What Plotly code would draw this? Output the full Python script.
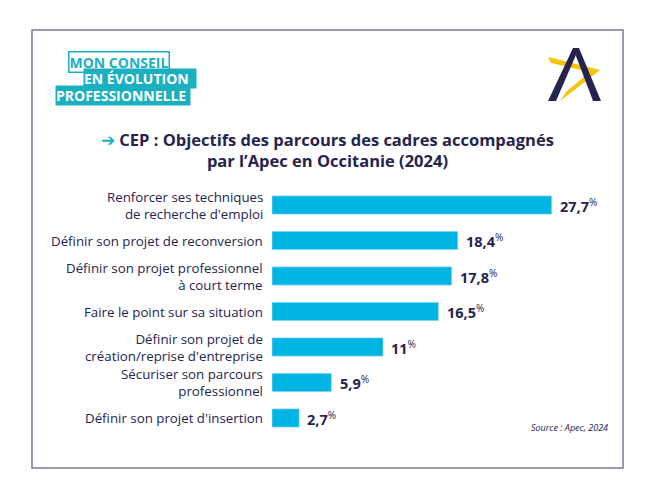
import plotly.graph_objects as go

categories = ["Renforcer ses techniques<br>de recherche d'emploi",
              "Définir son projet de reconversion",
              "Définir son projet professionnel<br>à court terme",
              "Faire le point sur sa situation",
              "Définir son projet de<br>création/reprise d'entreprise",
              "Sécuriser son parcours<br>professionnel",
              "Définir son projet d'insertion"]
values = [27.7, 18.4, 17.8, 16.5, 11, 5.9, 2.7]
value_labels = ["27,7", "18,4", "17,8", "16,5", "11", "5,9", "2,7"]

W, H = 650, 483
OFF = 8  # page body margin
NAVY = "#25244f"
TEAL = "#1ab0c0"
def px(x): return (x - OFF) / W
def py(y): return 1 - (y - OFF) / H

fig = go.Figure(go.Bar(x=values, y=list(range(len(values))), orientation="h",
                       marker_color="#00b4e4", width=0.52, hoverinfo="skip"))
ann = []
for i, (c, v, t) in enumerate(zip(categories, values, value_labels)):
    ann.append(dict(x=0, y=i, xref="x", yref="y", text=c, showarrow=False, xanchor="right",
                    xshift=-7, align="right", font=dict(size=13.3, color=NAVY)))
    ann.append(dict(x=v, y=i, xref="x", yref="y", text=f"<b>{t}</b><sup>%</sup>", showarrow=False,
                    xanchor="left", xshift=6, font=dict(size=14.5, color=NAVY)))
ann.append(dict(x=px(327), y=py(126), xref="paper", yref="paper", showarrow=False,
                text="<span style='color:#1ab0c0'>➔</span> <b>CEP : Objectifs des parcours des cadres accompagnés</b><br><b>par l’Apec en Occitanie (2024)</b>",
                font=dict(size=16.5, color=NAVY), align="center"))
ann.append(dict(x=px(610), y=py(436), xref="paper", yref="paper", showarrow=False, xanchor="right",
                text="<i>Source : Apec, 2024</i>", font=dict(size=9, color=NAVY)))
# logo text
ann.append(dict(x=px(68), y=py(51), xref="paper", yref="paper", showarrow=False, xanchor="left",
                text="<b>MON CONSEIL</b>", font=dict(size=14, color=TEAL),
                bgcolor="white", bordercolor=TEAL, borderwidth=1.5, borderpad=0))
ann.append(dict(x=px(83), y=py(68), xref="paper", yref="paper", showarrow=False, xanchor="left",
                text="<b>EN ÉVOLUTION  </b>", font=dict(size=14, color="white"), bgcolor=TEAL, borderpad=0))
ann.append(dict(x=px(55), y=py(85), xref="paper", yref="paper", showarrow=False, xanchor="left",
                text="<b>PROFESSIONNELLE </b>", font=dict(size=14, color="white"), bgcolor=TEAL, borderpad=0))

def path(pts):
    return "M " + " L ".join(f"{px(x)},{py(y)}" for x, y in pts) + " Z"
shapes = [
    dict(type="rect", xref="paper", yref="paper", x0=px(32), x1=px(623), y0=py(468), y1=py(30),
         line=dict(color="#7d7a9c", width=1.5)),
    dict(type="path", xref="paper", yref="paper", path=path([(548, 57), (600, 70), (560, 101), (567, 91), (590, 72), (551, 63)]),
         fillcolor="#f7c300", line_width=0),
    dict(type="path", xref="paper", yref="paper", path=path([(548, 101), (573, 48), (579, 48), (556, 101)]),
         fillcolor=NAVY, line_width=0),
    dict(type="path", xref="paper", yref="paper", path=path([(573, 48), (579, 48), (601, 101), (593, 101)]),
         fillcolor=NAVY, line_width=0),
]
fig.update_layout(width=W, height=H, margin=dict(l=0, r=0, t=0, b=0), showlegend=False,
                  plot_bgcolor="white", paper_bgcolor="white", font=dict(family="Open Sans"),
                  annotations=ann, shapes=shapes,
                  xaxis=dict(domain=[px(272), px(620)], range=[0, 348 / 10.1], visible=False),
                  yaxis=dict(domain=[py(435.75), py(187.25)], range=[6.5, -0.5], visible=False))
fig.write_html("out.html")
